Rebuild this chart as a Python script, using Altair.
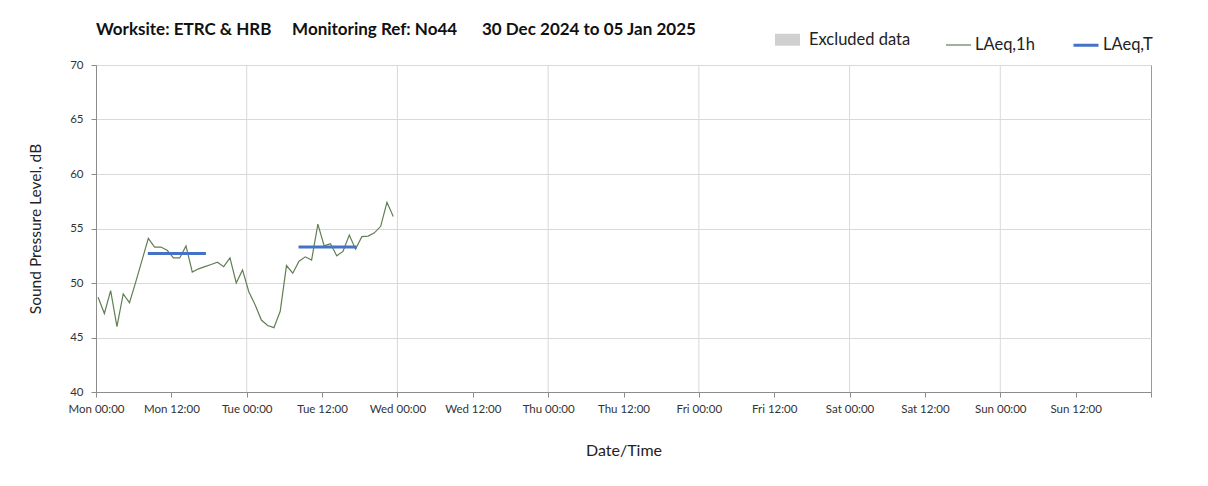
import altair as alt
import pandas as pd

# ---- data ----
series_names = ["Excluded data", "LAeq,1h", "LAeq,T"]
series_colors = ["#d0d0d0", "#617f52", "#4472c4"]
series_widths = [12, 1.2, 3]

start_time = "2024-12-30T00:20:00"
laeq_1h = [48.7, 47.2, 49.3, 46.0, 49.0, 48.2, 50.1, 52.1, 54.1, 53.3, 53.3, 53.0,
           52.3, 52.3, 53.4, 51.0, 51.3, 51.5, 51.7, 51.9, 51.5, 52.3, 50.0, 51.2,
           49.2, 48.0, 46.6, 46.1, 45.9, 47.4, 51.6, 50.9, 52.0, 52.4, 52.1, 55.4,
           53.4, 53.6, 52.5, 52.9, 54.4, 53.1, 54.25, 54.3, 54.6, 55.2, 57.4, 56.1]

laeq_t_start = ["2024-12-30T08:15:00", "2024-12-31T08:15:00"]
laeq_t_end = ["2024-12-30T17:30:00", "2024-12-31T17:30:00"]
laeq_t = [52.7, 53.3]

day_grid = ["2024-12-31T00:00:00", "2025-01-01T00:00:00", "2025-01-02T00:00:00",
            "2025-01-03T00:00:00", "2025-01-04T00:00:00", "2025-01-05T00:00:00"]

# x tick positions: (year, month, date, hour)
tick_days = [(2024, 12, 30), (2024, 12, 31), (2025, 1, 1), (2025, 1, 2),
             (2025, 1, 3), (2025, 1, 4), (2025, 1, 5)]
tick_hours = [0, 12]
tick_end = (2025, 1, 6, 0)

times = pd.date_range(start=start_time, periods=len(laeq_1h), freq="h")
df1 = pd.DataFrame({
    "time": [t.strftime("%Y-%m-%dT%H:%M:%S") for t in times],
    "level": laeq_1h,
    "series": "LAeq,1h",
})
df2 = pd.DataFrame({"start": laeq_t_start, "end": laeq_t_end, "level": laeq_t, "series": "LAeq,T"})
dfg = pd.DataFrame({"day": day_grid})

FONT = "Lato"
x_dom = [alt.DateTime(year=2024, month=12, date=30, hours=0),
         alt.DateTime(year=tick_end[0], month=tick_end[1], date=tick_end[2], hours=tick_end[3])]
x_ticks = [alt.DateTime(year=y, month=m, date=d, hours=h)
           for (y, m, d) in tick_days for h in tick_hours]
x_ticks.append(alt.DateTime(year=tick_end[0], month=tick_end[1], date=tick_end[2], hours=tick_end[3]))

x_scale = alt.Scale(domain=x_dom, nice=False)
y_scale = alt.Scale(domain=[40, 70], nice=False)

x_axis = alt.Axis(
    title="Date/Time", grid=False,
    values=x_ticks,
    format="%a %H:%M",
    labelExpr="datum.index >= 1 ? '' : datum.label",
    labelFontSize=11.5, labelPadding=6, titlePadding=28, titleFontSize=16,
    labelFlush=False,
)
y_axis = alt.Axis(
    title="Sound Pressure Level, dB",
    values=[40, 45, 50, 55, 60, 65, 70],
    labelFontSize=11.5, labelPadding=8, titlePadding=26, titleFontSize=15.5,
)

legend = alt.Legend(
    title=None, orient="none", direction="horizontal",
    legendX=673, legendY=-44, padding=0,
    symbolType="stroke", symbolSize=625,
    labelOffset=3, columnPadding=32,
    labelFont=FONT, labelFontSize=16.5, labelColor="#222", symbolOpacity=1,
)
color = alt.Color("series:N", scale=alt.Scale(domain=series_names, range=series_colors), legend=legend)
width = alt.StrokeWidth("series:N", scale=alt.Scale(type="ordinal", domain=series_names, range=series_widths), legend=legend)

grid = alt.Chart(dfg).mark_rule(color="#d9d9d9", strokeWidth=1).encode(
    x=alt.X("day:T", scale=x_scale, axis=x_axis),
)

line = alt.Chart(df1).mark_line().encode(
    x=alt.X("time:T", scale=x_scale),
    y=alt.Y("level:Q", scale=y_scale, axis=y_axis),
    color=color,
    strokeWidth=width,
)

rules = alt.Chart(df2).mark_rule().encode(
    x=alt.X("start:T", scale=x_scale),
    x2="end:T",
    y=alt.Y("level:Q", scale=y_scale),
    color=color,
    strokeWidth=width,
)

title = alt.TitleParams(
    text="Worksite: ETRC & HRB\u00a0\u00a0\u00a0\u00a0\u00a0Monitoring Ref: No44\u00a0\u00a0\u00a0\u00a0\u00a0\u00a030 Dec 2024 to 05 Jan 2025",
    anchor="start", frame="group", font=FONT, fontSize=17, fontWeight="bold",
    color="#111", offset=0, dy=18,
)

chart = alt.layer(grid, line, rules).properties(
    width=1055, height=327, title=title,
    autosize=alt.AutoSizeParams(type="none"),
    padding={"left": 88, "top": 57, "right": 49, "bottom": 86},
    background="white",
).configure_view(
    stroke="#9a9a9a", strokeWidth=1,
).configure_axis(
    labelFont=FONT, titleFont=FONT, labelColor="#333", titleColor="#222",
    titleFontWeight="normal",
    domainColor="#8c8c8c", tickColor="#8c8c8c", tickSize=5,
    gridColor="#d9d9d9",
)

chart.save("out.html", embed_options={"renderer": "svg", "actions": False})
